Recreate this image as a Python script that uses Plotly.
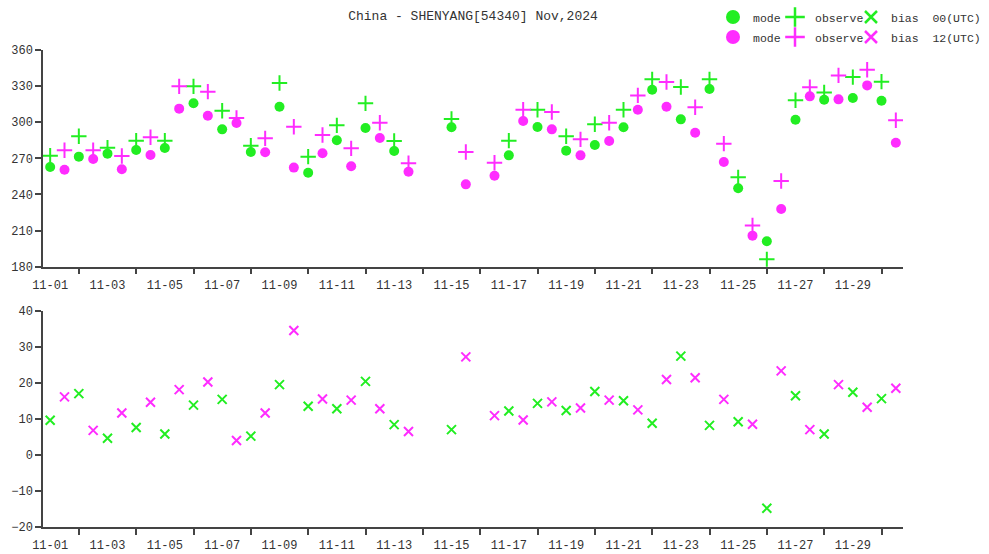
import plotly.graph_objects as go

# ---------------- data ----------------
days = list(range(1, 31))  # Nov 1..30
date_labels = ["11-%02d" % d for d in range(1, 31, 2)]

mode_00 = [262.8, 271.4, 273.9, 276.9, 278.6, 315.7, 294.1, 275.3, 312.9, 258.1,
           285.0, 295.2, 276.1, None, 295.8, None, 272.5, 296.0, 276.4, 281.1,
           295.8, 327.0, 302.4, 327.6, 245.1, 201.1, 302.1, 318.7, 320.1, 317.9]
obs_00 = [272.2, 288.3, 278.9, 284.7, 284.7, 329.8, 309.6, 280.5, 332.6, 271.4,
          297.4, 315.7, 284.4, None, 302.7, None, 284.7, 310.4, 288.3, 298.3,
          310.4, 335.6, 329.3, 335.6, 254.2, 186.1, 318.2, 324.8, 337.5, 333.7]
bias_00 = [9.6, 17.0, 4.6, 7.6, 5.8, 13.8, 15.4, 5.2, 19.5, 13.5,
           12.8, 20.4, 8.4, None, 7.0, None, 12.2, 14.3, 12.3, 17.6,
           15.0, 8.8, 27.4, 8.2, 9.2, -14.8, 16.4, 5.8, 17.4, 15.6]

mode_12 = [260.6, 269.5, 260.9, 272.8, 311.3, 305.4, 299.4, 275.0, 262.3, 274.2,
           263.4, 286.9, 258.9, None, 248.4, 255.6, 301.0, 294.1, 272.5, 284.4,
           310.4, 312.9, 291.3, 267.0, 205.8, 227.9, 321.5, 319.0, 330.6, 283.0]
obs_12 = [276.7, 276.7, 271.9, 287.5, 329.8, 325.4, 303.5, 286.6, 296.3, 289.4,
          278.3, 299.6, 265.9, None, 275.3, 266.4, 310.4, 308.5, 285.8, 299.6,
          322.3, 333.4, 312.4, 282.2, 214.3, 251.2, 329.0, 338.9, 343.6, 301.6]
bias_12 = [16.1, 6.8, 11.6, 14.6, 18.1, 20.2, 4.0, 11.6, 34.5, 15.5,
           15.2, 12.8, 6.5, None, 27.2, 10.9, 9.7, 14.7, 13.0, 15.2,
           12.5, 20.9, 21.4, 15.4, 8.5, 23.3, 7.0, 19.5, 13.2, 18.5]

top_ticks = [180, 210, 240, 270, 300, 330, 360]
bot_ticks = [-20, -10, 0, 10, 20, 30, 40]

# ---------------- styling ----------------
GREEN = "#22ee22"
MAGENTA = "#ff2cff"
FONT = "Liberation Mono"
AX = "#444444"
W, H = 989, 554
ML, MR, MT, MB = 43, 86, 50, 27
PW, PH = W - ML - MR, H - MT - MB

x00 = [d - 1 for d in days]          # 00 UTC, day offset from 11-01 00
x12 = [d - 1 + 0.5 for d in days]    # 12 UTC

fig = go.Figure()

def add(x, y, color, symbol, size, yaxis, xaxis, lw=0):
    fig.add_trace(go.Scatter(
        x=x, y=y, mode="markers", xaxis=xaxis, yaxis=yaxis, showlegend=False,
        marker=dict(symbol=symbol, size=size, color=color,
                    line=dict(width=lw, color=color)),
        hoverinfo="x+y"))

for xs, m, o, b, c in [(x00, mode_00, obs_00, bias_00, GREEN),
                       (x12, mode_12, obs_12, bias_12, MAGENTA)]:
    add(xs, m, c, "circle", 10, "y", "x")
    add(xs, o, c, "cross-thin", 11, "y", "x", lw=2)
    add(xs, b, c, "x-thin", 9, "y2", "x2", lw=2)

# legend entries: one small legend per entry, placed like the reference
leg_layout = {}
k = 0
for c, utc, row_y in [(GREEN, "00(UTC)", 17), (MAGENTA, "12(UTC)", 37)]:
    entries = [("mode", dict(symbol="circle", size=14, color=c), 713),
               ("observe", dict(symbol="cross-thin", size=14, color=c,
                                line=dict(width=2.5, color=c)), 775),
               ("bias\u00a0\u00a0" + utc, dict(symbol="x-thin", size=12, color=c,
                                             line=dict(width=2.5, color=c)), 851)]
    for name, mk, px in entries:
        k += 1
        lname = "legend" if k == 1 else "legend%d" % k
        fig.add_trace(go.Scatter(x=[None], y=[None], mode="markers", name=name,
                                 legend=lname, marker=mk))
        leg_layout[lname] = dict(
            orientation="h", x=(px - ML) / PW, xanchor="left",
            y=1 + (MT - row_y) / PH, yanchor="middle",
            font=dict(family=FONT, size=11.5, color="#333"), itemwidth=30,
            bgcolor="rgba(0,0,0,0)", borderwidth=0)

xrange = [-0.25, 29.75]
xcommon = dict(
    range=xrange, tickmode="array", tickvals=list(range(0, 30, 2)), ticktext=date_labels,
    ticks="outside", ticklen=6, tickcolor="rgba(0,0,0,0)",
    showline=True, linecolor=AX, linewidth=1.5, showgrid=False, zeroline=False,
    tickfont=dict(family=FONT, size=12, color="#333"),
    minor=dict(tickmode="array", tickvals=list(range(1, 30, 2)), ticks="outside",
               ticklen=6, tickcolor=AX, tickwidth=1.5, showgrid=False),
)
yfont = dict(family=FONT, size=12, color="#333")
fig.update_layout(
    width=W, height=H,
    margin=dict(l=ML, r=MR, t=MT, b=MB, autoexpand=False),
    paper_bgcolor="white", plot_bgcolor="white",
    title=dict(text="China - SHENYANG[54340] Nov,2024", x=(473 - ML) / PW, xref="paper",
               xanchor="center", y=1 - 15 / H, yref="container", yanchor="middle",
               font=dict(family=FONT, size=13, color="#333")),
    xaxis=dict(domain=[0, 1], anchor="y", **xcommon),
    xaxis2=dict(domain=[0, 1], anchor="y2", **xcommon),
    yaxis=dict(domain=[(H - MB - 266.7) / PH, 1],
               range=[180, 360], tickvals=top_ticks,
               ticks="outside", ticklen=6, tickcolor=AX, tickwidth=1.5,
               showline=True, linecolor=AX, linewidth=1.5, showgrid=False, zeroline=False,
               tickfont=yfont),
    yaxis2=dict(domain=[0, (H - MB - 310.7) / PH], range=[-20, 40], tickvals=bot_ticks,
                ticks="outside", ticklen=6, tickcolor=AX, tickwidth=1.5,
                showline=True, linecolor=AX, linewidth=1.5, showgrid=False, zeroline=False,
                tickfont=yfont),
    **leg_layout,
)

fig.write_html("out.html", config={"displayModeBar": False},
               post_script="document.body.style.margin='0';document.body.style.padding='0';")
